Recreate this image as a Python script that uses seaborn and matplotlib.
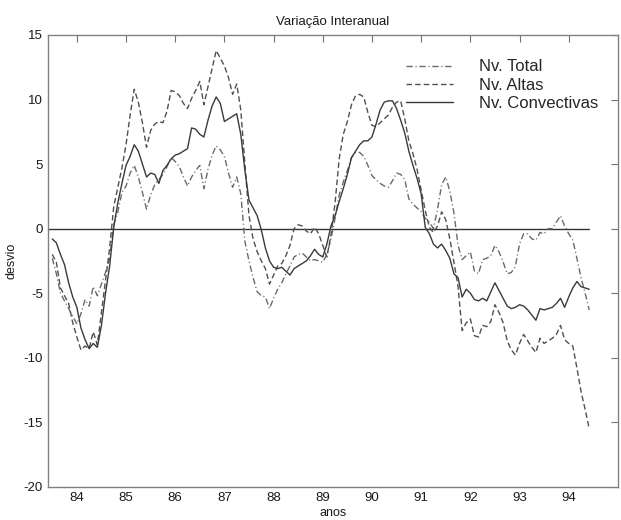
import numpy as np
import pandas as pd
import matplotlib
matplotlib.use("Agg")
import matplotlib.pyplot as plt
import seaborn as sns

# Monthly samples, mid-1983 through mid-1994 (year labels are two-digit)
start_year = 83.5
n_months = 132
anos = start_year + np.arange(n_months) / 12.0

nv_total = [
    -2.3, -3.5, -5.0, -5.6, -6.2, -6.8, -7.4, -6.6, -5.5, -6.0,
    -4.5, -5.2, -4.3, -3.4, -2.3, 0.3, 1.3, 2.8, 3.3, 4.3,
    4.9, 4.0, 2.8, 1.5, 2.6, 3.4, 3.8, 4.2, 4.8, 5.5,
    5.2, 4.8, 4.0, 3.3, 4.0, 4.5, 4.9, 3.1, 4.6, 5.7,
    6.4, 6.1, 5.6, 4.3, 3.2, 4.0, 2.7, -1.0, -2.5, -3.8,
    -4.9, -5.2, -5.3, -6.2, -5.4, -4.7, -4.2, -3.5, -2.9, -2.2,
    -2.0, -1.9, -2.2, -2.5, -2.4, -2.5, -2.6, -2.0, -0.8, 0.8,
    2.6, 3.6, 4.5, 5.5, 5.9, 5.9, 5.6, 4.9, 4.1, 3.8,
    3.5, 3.3, 3.2, 3.7, 4.3, 4.2, 3.8, 2.3, 1.9, 1.6,
    1.3, 0.8, 0.5, 0.0, 1.5, 3.4, 4.0, 2.9, 1.2, -1.3,
    -2.4, -2.1, -1.8, -3.3, -3.5, -2.4, -2.3, -2.1, -1.3, -1.8,
    -2.6, -3.5, -3.4, -2.9, -1.2, -0.4, -0.4, -0.8, -0.9, -0.3,
    -0.4, 0.0, 0.0, 0.5, 1.0, 0.2, -0.4, -0.9, -2.3, -3.8,
    -5.0, -6.3,
]

nv_altas = [
    -2.0, -2.6, -4.6, -5.2, -5.8, -7.3, -8.4, -9.4, -9.1, -9.3,
    -8.0, -9.0, -6.5, -4.0, -1.5, 1.7, 3.2, 4.7, 6.5, 8.8,
    10.8, 9.8, 8.2, 6.3, 7.6, 8.1, 8.3, 8.2, 9.1, 10.7,
    10.6, 10.3, 9.7, 9.3, 10.1, 10.7, 11.4, 9.6, 11.0, 12.4,
    13.8, 13.2, 12.6, 11.7, 10.4, 11.2, 9.2, 5.0, 1.0, -0.8,
    -1.8, -2.5, -3.1, -4.3, -3.6, -2.9, -2.7, -2.1, -1.3, 0.0,
    0.3, 0.2, -0.2, -0.4, 0.1, -0.4, -1.3, -2.2, -0.5, 2.0,
    5.4, 7.3, 8.3, 9.6, 10.3, 10.4, 10.2, 9.0, 8.0, 7.9,
    8.2, 8.5, 8.8, 9.4, 9.8, 9.9, 8.5, 6.8, 5.8, 4.6,
    3.0, 1.4, 0.1, -0.3, 0.2, 1.3, 0.7, -0.8, -2.6, -4.5,
    -7.9, -7.3, -7.0, -8.3, -8.4, -7.5, -7.6, -7.2, -5.9, -6.5,
    -7.3, -8.7, -9.4, -9.8, -8.9, -8.2, -8.7, -9.2, -9.6, -8.5,
    -8.9, -8.7, -8.5, -8.2, -7.5, -8.6, -8.9, -9.1, -10.8, -12.6,
    -14.0, -15.5,
]

nv_convectivas = [
    -0.8, -1.1, -2.0, -2.8, -4.2, -5.3, -6.1, -7.7, -8.6, -9.3,
    -8.9, -9.2, -7.5, -5.0, -2.9, 0.1, 2.0, 3.5, 4.9, 5.6,
    6.5, 6.0, 5.0, 4.0, 4.3, 4.2, 3.5, 4.5, 4.9, 5.4,
    5.7, 5.8, 6.0, 6.2, 7.8, 7.7, 7.3, 7.1, 8.4, 9.5,
    10.2, 9.7, 8.3, 8.5, 8.7, 8.9, 7.3, 4.5, 2.2, 1.6,
    1.0, -0.1, -1.5, -2.5, -3.0, -3.1, -3.0, -3.3, -3.6, -3.1,
    -2.9, -2.7, -2.5, -2.1, -1.6, -2.0, -2.2, -1.2, 0.2, 1.0,
    2.1, 3.1, 4.2, 5.5, 6.0, 6.5, 6.8, 6.8, 7.1, 8.1,
    9.2, 9.8, 9.9, 9.9, 9.3, 8.4, 7.4, 6.0, 4.9, 3.9,
    2.7, 0.1, -0.4, -1.2, -1.5, -1.2, -1.7, -2.3, -3.5, -3.8,
    -5.3, -4.7, -5.0, -5.5, -5.6, -5.4, -5.6, -4.9, -4.2, -4.8,
    -5.4, -6.0, -6.2, -6.1, -5.9, -6.0, -6.3, -6.7, -7.1, -6.2,
    -6.3, -6.2, -6.1, -5.8, -5.4, -6.1, -5.3, -4.6, -4.1, -4.5,
    -4.6, -4.7,
]

series_names = ["Nv. Total", "Nv. Altas", "Nv. Convectivas"]
x_ticks = list(range(84, 95))
y_ticks = list(range(-20, 16, 5))

df = pd.DataFrame({
    "anos": np.tile(anos, 3),
    "desvio": nv_total + nv_altas + nv_convectivas,
    "serie": np.repeat(series_names, n_months),
})

sns.set_theme(style="white")
plt.rcParams["font.family"] = ["Liberation Sans", "DejaVu Sans"]

fig = plt.figure(figsize=(6.21, 5.20), dpi=100)
ax = fig.add_axes([0.0778, 0.064, 0.9172, 0.8687])

styles = {
    "Nv. Total": dict(color="#6a6a6a", linestyle=(0, (4.5, 2.0, 0.8, 2.0))),
    "Nv. Altas": dict(color="#505050", linestyle=(0, (4.0, 2.2))),
    "Nv. Convectivas": dict(color="#3a3a3a", linestyle="-"),
}

for name in series_names:
    sns.lineplot(
        data=df[df["serie"] == name], x="anos", y="desvio",
        ax=ax, linewidth=1.0, label=name, legend=False,
        **styles[name],
    )

x_left, x_right = 83.42, 95.0
# zero reference line spanning the sampled period
ax.plot([x_left, anos[-1]], [0, 0], color="#333333", linewidth=1.0, zorder=1)

ax.set_xlim(x_left, x_right)
ax.set_ylim(-20, 15)
ax.set_xticks(x_ticks)
ax.set_xticklabels([str(t) for t in x_ticks])
ax.set_yticks(y_ticks)
ax.set_yticklabels([str(t) for t in y_ticks])

ax.tick_params(direction="in", length=5, width=0.8, top=True, right=True,
               labeltop=False, labelright=False, labelsize=9.5,
               colors="#707070", labelcolor="#1a1a1a", pad=4)
for sp in ax.spines.values():
    sp.set_visible(True)
    sp.set_color("#808080")
    sp.set_linewidth(1.0)

ax.set_xlabel("anos", fontsize=9, color="#1a1a1a", labelpad=2)
ax.set_ylabel("desvio", fontsize=9, color="#1a1a1a", labelpad=4)
ax.set_title("Variação Interanual", fontsize=9.5, color="#1a1a1a", pad=7)

handles, labels = ax.get_legend_handles_labels()
ax.legend(handles, labels, loc="upper left", bbox_to_anchor=(0.628, 0.946),
          frameon=False, fontsize=12, handlelength=2.8, handletextpad=1.6,
          labelspacing=0.2, borderpad=0, borderaxespad=0)

fig.savefig("out.png", dpi=100, facecolor="white")
